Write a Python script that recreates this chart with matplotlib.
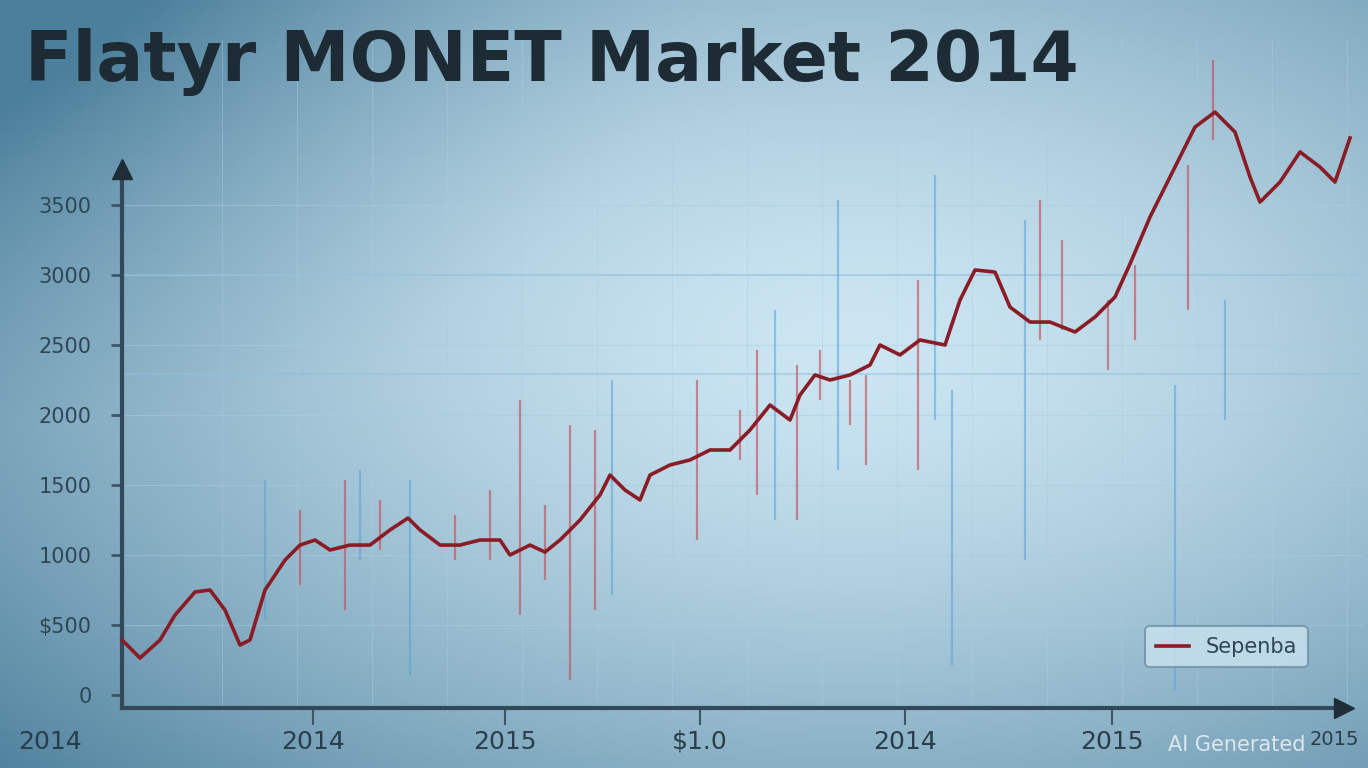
import numpy as np
import matplotlib
matplotlib.use("Agg")
import matplotlib.pyplot as plt

# ---- data (x in chart units, y in value units) ----
title = "Flatyr MONET Market 2014"
legend_label = "Sepenba"

line_x = [0, 18, 38, 53, 73, 88, 103, 118, 128, 143, 163, 178, 193, 208, 228, 248,
          268, 286, 298, 318, 338, 358, 378, 388, 408, 423, 438, 458, 478, 488, 503,
          518, 528, 548, 568, 588, 608, 628, 648, 668, 678, 693, 708, 728, 748, 758,
          778, 798, 823, 838, 853, 873, 888, 908, 928, 953, 973, 993, 1008, 1028, 1048,
          1073, 1093, 1113, 1128, 1138, 1158, 1178, 1198, 1213, 1228]
line_y = [393, 264, 393, 571, 736, 750, 607, 357, 393, 750, 964, 1071, 1107, 1036, 1071, 1071,
          1179, 1264, 1179, 1071, 1071, 1107, 1107, 1000, 1071, 1021, 1107, 1250, 1429, 1571, 1464,
          1393, 1571, 1643, 1679, 1750, 1750, 1893, 2071, 1964, 2143, 2286, 2250, 2286, 2357, 2500,
          2429, 2536, 2500, 2821, 3036, 3021, 2771, 2664, 2664, 2593, 2700, 2843, 3079, 3414, 3700,
          4057, 4164, 4021, 3700, 3521, 3664, 3879, 3771, 3664, 3979]

red_x = [178, 223, 258, 333, 368, 398, 423, 448, 473, 575, 618, 635, 675, 698, 728, 744,
         796, 918, 940, 986, 1013, 1066, 1091]
red_lo = [786, 607, 1036, 964, 964, 571, 821, 107, 607, 1107, 1679, 1429, 1250, 2107, 1929, 1643,
          1607, 2536, 2607, 2321, 2536, 2750, 3964]
red_hi = [1321, 1536, 1393, 1286, 1464, 2107, 1357, 1929, 1893, 2250, 2036, 2464, 2357, 2464, 2250,
          2286, 2964, 3536, 3250, 2821, 3071, 3786, 4536]

blue_x = [143, 238, 288, 490, 653, 716, 813, 830, 903, 1053, 1103]
blue_lo = [536, 964, 143, 714, 1250, 1607, 1964, 214, 964, 36, 1964]
blue_hi = [1536, 1607, 1536, 2250, 2750, 3536, 3714, 2179, 3393, 2214, 2821]

y_ticks = [0, 500, 1000, 1500, 2000, 2500, 3000, 3500]
y_labels = ["0", "$500", "1000", "1500", "2000", "2500", "3000", "3500"]
x_ticks = [-72, 191, 383, 578, 783, 990, 1212]
x_labels = ["2014", "2014", "2015", "$1.0", "2014", "2015", "2015"]

# ---- figure ----
W, H = 1368, 768
fig = plt.figure(figsize=(W / 100, H / 100), dpi=100)

# background: light blue screen with darker vignette
bg = fig.add_axes([0, 0, 1, 1])
yy, xx = np.mgrid[0:1:200j, 0:1:360j]
d = np.sqrt(((xx - 0.62) / 0.85) ** 2 + ((yy - 0.45) / 0.85) ** 2)
d = d + 0.5 * np.clip(0.5 - np.hypot(xx, yy * 0.9), 0, 1)
t = np.clip(d, 0, 1) ** 1.5
light = np.array([0.80, 0.90, 0.95])
dark = np.array([0.30, 0.50, 0.61])
img = light * (1 - t[..., None]) + dark * t[..., None]
bg.imshow(img, extent=[0, 1, 0, 1], aspect="auto", origin="upper")
bg.axis("off")

left_px, right_px, bot_px, top_px = 42, 1362, 712, 40
ax = fig.add_axes([left_px / W, 1 - bot_px / H, (right_px - left_px) / W, (bot_px - top_px) / H])
ax.patch.set_alpha(0)
ax.set_xlim(-80, 1240)
k = 500 / 70
ax.set_ylim((695 - bot_px) * k, (695 - top_px) * k)

ax.set_yticks(y_ticks, y_labels)
ax.set_xticks(x_ticks, x_labels)
for y in y_ticks[1:]:
    ax.axhline(y, xmin=80 / 1320, color="#a8cde2", lw=0.8, alpha=0.5, zorder=0)
for y in [2293, 3000]:
    ax.axhline(y, xmin=80 / 1320, color="#8fc0e0", lw=1.2, alpha=0.6, zorder=0)
for x in range(100, 1240, 75):
    ax.axvline(x, color="#a8cde2", lw=0.7, alpha=0.4, zorder=0)

ax.vlines(blue_x, blue_lo, blue_hi, color="#5a9fd8", lw=1.6, alpha=0.55, zorder=1)
ax.vlines(red_x, red_lo, red_hi, color="#c4505c", lw=1.6, alpha=0.65, zorder=1)
ax.plot(line_x, line_y, color="#8a1c26", lw=2.6, zorder=3, clip_on=False,
        label=legend_label)

for s in ["top", "right"]:
    ax.spines[s].set_visible(False)
ax.spines["left"].set_position(("data", 0))
ax.spines["bottom"].set_position(("data", -90))
ax.spines["left"].set_bounds(-90, 3750)
ax.spines["bottom"].set_bounds(0, 1218)
for s in ["left", "bottom"]:
    ax.spines[s].set_color("#33495a")
    ax.spines[s].set_linewidth(3)
ax.plot([0], [3760], marker="^", ms=14, color="#1e2d38", clip_on=False, zorder=4)
ax.plot([1222], [-90], marker=">", ms=14, color="#1e2d38", clip_on=False, zorder=4)

ax.tick_params(axis="y", length=8, width=2, color="#3d5668", pad=14,
               labelsize=15, labelcolor="#2f4656")
ax.tick_params(axis="x", length=12, width=1.5, color="#3d5668", pad=4,
               labelsize=18, labelcolor="#2a3d4b")
ax.get_xticklabels()[-1].set_fontsize(14)
ax.xaxis.get_major_ticks()[0].tick1line.set_visible(False)
ax.xaxis.get_major_ticks()[-1].tick1line.set_visible(False)

leg = ax.legend(loc="upper left", bbox_to_anchor=(1135 / W, 1 - 616 / H),
                bbox_transform=fig.transFigure, frameon=True, fontsize=15,
                handlelength=1.6, borderpad=0.5)
leg.get_frame().set_facecolor("#c9e2ee")
leg.get_frame().set_edgecolor("#6f8fa3")
leg.get_frame().set_linewidth(1.5)
leg.get_frame().set_alpha(0.8)
for txt in leg.get_texts():
    txt.set_color("#2f4558")

fig.text(25 / W, 1 - 62 / H, title, fontsize=50, fontweight="bold",
         color="#1d2b35", va="center", ha="left")
fig.text(1305 / W, 1 - 745 / H, "AI Generated", fontsize=15,
         color="#e6eef3", alpha=0.9, ha="right", va="center")

fig.savefig("out.png", dpi=100)
